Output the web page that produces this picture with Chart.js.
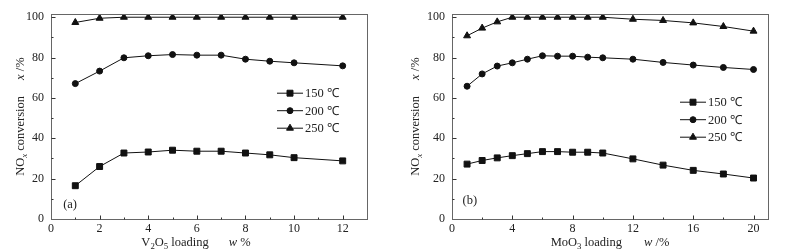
<!DOCTYPE html>
<html>
<head>
<meta charset="utf-8">
<script src="https://cdn.jsdelivr.net/npm/chart.js@4.4.1/dist/chart.umd.min.js"></script>
<style>
  body { margin: 0; background: #fff; }
  .panel { position: absolute; top: 0; height: 252px; }
  #panelA { left: 0; width: 393px; }
  #panelB { left: 393px; width: 394px; }
</style>
</head>
<body>
<div class="panel" id="panelA"><canvas id="plotA"></canvas></div>
<div class="panel" id="panelB"><canvas id="plotB"></canvas></div>
<script>
// Datos
const temperaturas = ['150 ℃', '200 ℃', '250 ℃'];
const marcadores = ['rect', 'circle', 'triangle'];
const radios = [4.2, 3, 4];

// (a) carga de V2O5
const cargaV2O5 = [1, 2, 3, 4, 5, 6, 7, 8, 9, 10, 12];
const v150 = [16.5, 26.0, 32.7, 33.2, 34.1, 33.6, 33.6, 32.7, 31.8, 30.4, 28.8];
const v200 = [67.1, 73.3, 79.9, 80.9, 81.5, 81.2, 81.2, 79.2, 78.2, 77.4, 75.9];
const v250 = [97.4, 99.5, 100, 100, 100, 100, 100, 100, 100, 100, 100];

// (b) carga de MoO3
const cargaMoO3 = [1, 2, 3, 4, 5, 6, 7, 8, 9, 10, 12, 14, 16, 18, 20];
const m150 = [27.2, 29.0, 30.3, 31.4, 32.4, 33.4, 33.4, 33.1, 33.1, 32.7, 29.8, 26.7, 24.1, 22.3, 20.3];
const m200 = [65.8, 71.9, 75.8, 77.4, 79.2, 80.9, 80.7, 80.7, 80.2, 79.9, 79.2, 77.6, 76.3, 75.1, 74.1];
const m250 = [90.8, 94.6, 97.7, 100, 100, 100, 100, 100, 100, 100, 99.0, 98.4, 97.2, 95.4, 93.1];

// Marcas de los ejes
const yMayores = [0, 20, 40, 60, 80, 100];
const yMenores = [10, 30, 50, 70, 90];
const xMayoresA = [0, 2, 4, 6, 8, 10, 12];
const xMenoresA = [1, 3, 5, 7, 9, 11];
const xMayoresB = [0, 4, 8, 12, 16, 20];
const xMenoresB = [2, 6, 10, 14, 18];

const fuente = "'Liberation Serif', 'Times New Roman', serif";
const colorTexto = '#222';
const tamTexto = 12.5;

// Dibuja texto con subindices, cursivas y huecos, centrado en (x, y)
let dibujarPartes = (ctx, partes, x, y, tam) => {
  let fontDe = p => `${p.it ? 'italic ' : ''}${p.sub ? tam * 0.7 : tam}px ${fuente}`;
  let ancho = p => { if (p.hueco) return p.hueco; ctx.font = fontDe(p); return ctx.measureText(p.t).width; };
  let total = 0;
  partes.forEach(p => { total += ancho(p); });
  let cx = x - total / 2;
  ctx.textBaseline = 'middle';
  ctx.textAlign = 'left';
  partes.forEach(p => {
    let w = ancho(p);
    if (!p.hueco) ctx.fillText(p.t, cx, p.sub ? y + tam * 0.3 : y);
    cx += w;
  });
};

let extras = {
  id: 'extras',
  afterDraw(chart, args, o) {
    const {ctx, chartArea: a, scales: {x, y}} = chart;
    ctx.save();
    // marco
    ctx.strokeStyle = '#666';
    ctx.lineWidth = 1;
    ctx.strokeRect(Math.round(a.left) + 0.5, Math.round(a.top) + 0.5, Math.round(a.width), Math.round(a.height));
    // marcas hacia dentro
    ctx.strokeStyle = '#333';
    ctx.beginPath();
    let bx = Math.round(a.bottom) + 0.5;
    let lx = Math.round(a.left) + 0.5;
    o.xMayores.concat(o.xMenores).forEach(v => {
      if (v <= x.min) return;
      let px = Math.round(x.getPixelForValue(v)) + 0.5;
      let largo = o.xMayores.includes(v) ? 4 : 2;
      ctx.moveTo(px, bx); ctx.lineTo(px, bx - largo);
    });
    yMayores.concat(yMenores).forEach(v => {
      if (v <= 0) return;
      let py = Math.round(y.getPixelForValue(v)) + 0.5;
      let largo = yMayores.includes(v) ? 4 : 2;
      ctx.moveTo(lx, py); ctx.lineTo(lx + largo, py);
    });
    ctx.stroke();

    // leyenda dentro del area
    ctx.strokeStyle = '#111';
    temperaturas.forEach((t, i) => {
      let ly = a.top + o.leyendaY + i * 17.5;
      let lx0 = a.left + o.leyendaX;
      ctx.beginPath();
      ctx.moveTo(lx0, ly); ctx.lineTo(lx0 + 26, ly);
      ctx.stroke();
      ctx.fillStyle = '#111';
      Chart.helpers.drawPoint(ctx, {pointStyle: marcadores[i], radius: radios[i], borderWidth: 1}, lx0 + 13, ly);
      ctx.fillStyle = colorTexto;
      ctx.font = `${tamTexto}px ${fuente}`;
      ctx.textAlign = 'left';
      ctx.textBaseline = 'middle';
      ctx.fillText(t, lx0 + 28, ly + 1);
    });

    // etiqueta del panel
    ctx.fillStyle = colorTexto;
    ctx.font = `${tamTexto}px ${fuente}`;
    ctx.textAlign = 'left';
    ctx.fillText(o.panel, x.getPixelForValue(o.panelPos[0]), y.getPixelForValue(o.panelPos[1]));

    // titulos de los ejes
    dibujarPartes(ctx, o.tituloX, (a.left + a.right) / 2 + o.tituloXDx, a.bottom + 24, tamTexto);
    ctx.translate(a.left - o.tituloYDx, (a.top + a.bottom) / 2);
    ctx.rotate(-Math.PI / 2);
    dibujarPartes(ctx, [{t: 'NO'}, {t: 'x', sub: true, it: true}, {t: ' conversion'}, {hueco: 16}, {t: 'x', it: true}, {t: ' /%'}], 0, 0, tamTexto);
    ctx.restore();
  }
};

let crearGrafico = (idCanvas, cargas, series, xMax, xMayores, opciones) => {
  let datasets = series.map((serie, i) => ({
    label: temperaturas[i],
    data: cargas.map((c, j) => ({x: c, y: serie[j]})),
    borderColor: '#111',
    backgroundColor: '#111',
    borderWidth: 1,
    pointStyle: marcadores[i],
    pointRadius: radios[i],
    pointBorderWidth: 1,
    tension: 0
  }));
  let config = {
    type: 'line',
    data: {datasets: datasets},
    options: {
      responsive: true,
      maintainAspectRatio: false,
      animation: false,
      layout: {padding: opciones.padding},
      plugins: {
        legend: {display: false},
        tooltip: {enabled: false},
        extras: opciones
      },
      scales: {
        x: {
          type: 'linear', min: 0, max: xMax,
          afterBuildTicks: s => { s.ticks = xMayores.map(v => ({value: v})); },
          afterFit: s => { s.height = 18; },
          grid: {display: false, drawTicks: false},
          border: {display: false},
          ticks: {font: {family: fuente, size: 12}, color: colorTexto, padding: 3, maxRotation: 0, autoSkip: false}
        },
        y: {
          min: 0, max: 101.5,
          afterBuildTicks: s => { s.ticks = yMayores.map(v => ({value: v})); },
          afterFit: s => { s.width = 30; },
          grid: {display: false, drawTicks: false},
          border: {display: false},
          ticks: {font: {family: fuente, size: 12}, color: colorTexto, padding: 7}
        }
      }
    },
    plugins: [extras]
  };
  return new Chart(document.getElementById(idCanvas), config);
};

(function(){
  crearGrafico('plotA', cargaV2O5, [v150, v200, v250], 13, xMayoresA, {
    padding: {left: 21, right: 26, top: 12, bottom: 15},
    xMayores: xMayoresA, xMenores: xMenoresA,
    leyendaX: 226, leyendaY: 79,
    panel: '(a)', panelPos: [0.5, 7.2],
    tituloX: [{t: 'V'}, {t: '2', sub: true}, {t: 'O'}, {t: '5', sub: true}, {t: ' loading'}, {hueco: 20}, {t: 'w', it: true}, {t: ' %'}],
    tituloXDx: -13, tituloYDx: 30
  });
  crearGrafico('plotB', cargaMoO3, [m150, m200, m250], 20.96, xMayoresB, {
    padding: {left: 29, right: 19, top: 12, bottom: 15},
    xMayores: xMayoresB, xMenores: xMenoresB,
    leyendaX: 228, leyendaY: 88,
    panel: '(b)', panelPos: [0.7, 9.2],
    tituloX: [{t: 'MoO'}, {t: '3', sub: true}, {t: ' loading'}, {hueco: 22}, {t: 'w', it: true}, {t: ' /%'}],
    tituloXDx: 0, tituloYDx: 36
  });
})();
</script>
</body>
</html>
